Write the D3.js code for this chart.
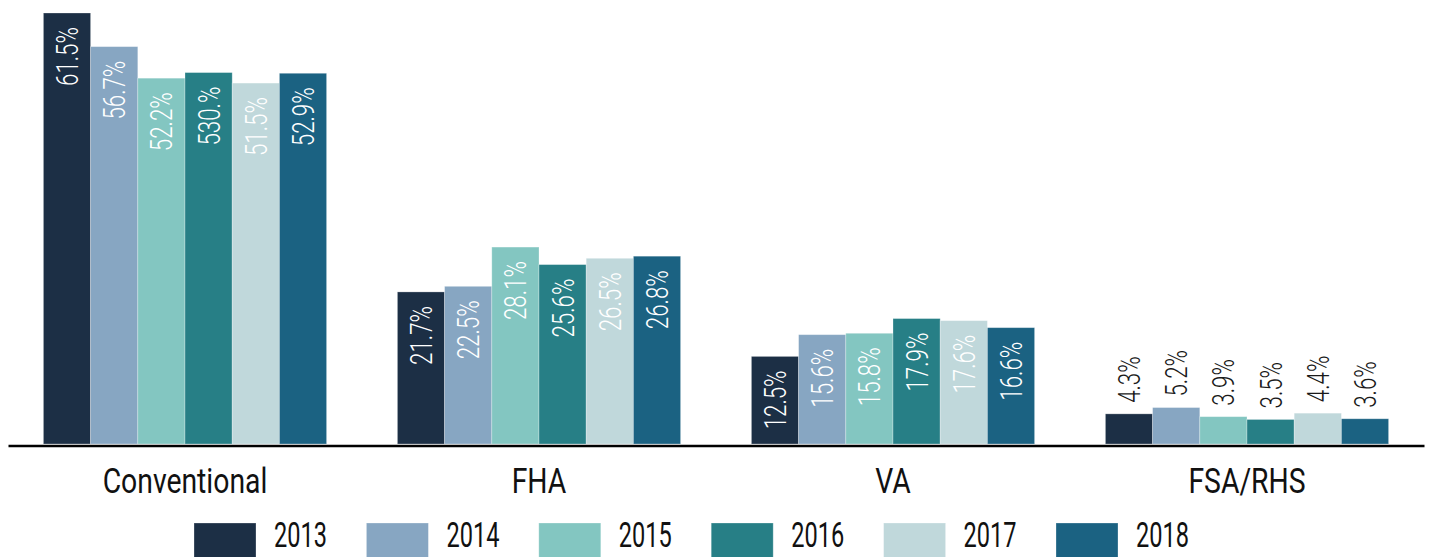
<!DOCTYPE html>
<html lang="en">
<head>
<meta charset="UTF-8">
<title>Loan type share by year</title>
<script src="https://d3js.org/d3.v7.min.js"></script>
<style>
    body { margin: 0; background: #fff; }
    svg { display: block; font-family: Roboto, sans-serif; }
</style>
</head>
<body>
<svg id="chart" width="1432" height="557"></svg>
<script>
// data
const categories = ['Conventional', 'FHA', 'VA', 'FSA/RHS'];
const years = ['2013', '2014', '2015', '2016', '2017', '2018'];
const colors = ['#1c2f45', '#87a6c2', '#83c6c1', '#277f86', '#c0d8db', '#1b6282'];
const values = {
    'Conventional': [61.5, 56.7, 52.2, 53.0, 51.5, 52.9],
    'FHA':          [21.7, 22.5, 28.1, 25.6, 26.5, 26.8],
    'VA':           [12.5, 15.6, 15.8, 17.9, 17.6, 16.6],
    'FSA/RHS':      [4.3, 5.2, 3.9, 3.5, 4.4, 3.6]
};
const labels = {
    'Conventional': ['61.5%', '56.7%', '52.2%', '530.%', '51.5%', '52.9%'],
    'FHA':          ['21.7%', '22.5%', '28.1%', '25.6%', '26.5%', '26.8%'],
    'VA':           ['12.5%', '15.6%', '15.8%', '17.9%', '17.6%', '16.6%'],
    'FSA/RHS':      ['4.3%', '5.2%', '3.9%', '3.5%', '4.4%', '3.6%']
};

const svg = d3.select('#chart');
const baseY = 444;

const x0 = d3.scaleBand().domain(categories).range([8, 1424])
    .paddingInner(0.2).paddingOuter(0.1);
const x1 = d3.scaleBand().domain(years).range([0, x0.bandwidth()]);
const y = d3.scaleLinear().domain([0, 61.5]).range([baseY, 13]);
const color = d3.scaleOrdinal().domain(years).range(colors);

const rows = [];
categories.forEach(c => {
    years.forEach((yr, i) => {
        rows.push({cat: c, year: yr, value: values[c][i], label: labels[c][i]});
    });
});

// bars
svg.append('g').selectAll('rect')
    .data(rows)
    .join('rect')
    .attr('x', d => x0(d.cat) + x1(d.year))
    .attr('y', d => y(d.value))
    .attr('width', x1.bandwidth())
    .attr('height', d => baseY - y(d.value))
    .attr('fill', d => color(d.year))
    .attr('stroke', 'rgba(255,255,255,0.35)')
    .attr('stroke-width', 0.8);

// value labels, rotated; small bars get them above
svg.append('g').selectAll('text')
    .data(rows)
    .join('text')
    .attr('transform', d => {
        const cx = x0(d.cat) + x1(d.year) + x1.bandwidth() / 2 + 11;
        const ty = d.value < 10 ? y(d.value) - 11 : y(d.value) + 14;
        return `translate(${cx},${ty}) rotate(-90) scale(0.72,1)`;
    })
    .attr('text-anchor', d => d.value < 10 ? 'start' : 'end')
    .attr('font-size', 31)
    .attr('font-weight', 300)
    .attr('fill', d => d.value < 10 ? '#1a1a1a' : '#fff')
    .text(d => d.label);

// axis line
const xAxis = d3.axisBottom(x0).tickSize(0).tickPadding(0);
const ax = svg.append('g').attr('transform', `translate(0,${baseY + 1.5})`).call(xAxis);
ax.select('.domain').attr('stroke', '#000').attr('stroke-width', 2.5);
ax.selectAll('text').remove();

// category labels
svg.append('g').selectAll('text')
    .data(categories)
    .join('text')
    .attr('transform', d => `translate(${x0(d) + x0.bandwidth() / 2},493) scale(0.81,1)`)
    .attr('text-anchor', 'middle')
    .attr('font-size', 35)
    .attr('fill', '#111')
    .text(d => d);

// legend
const legend = svg.append('g').selectAll('g')
    .data(years)
    .join('g')
    .attr('transform', (d, i) => `translate(${194 + i * 172.4},0)`);
legend.append('rect')
    .attr('y', 523).attr('width', 62).attr('height', 40)
    .attr('fill', d => color(d))
    .attr('stroke', 'rgba(255,255,255,0.35)').attr('stroke-width', 0.8);
legend.append('text')
    .attr('transform', 'translate(80,547) scale(0.655,1)')
    .attr('font-size', 36)
    .attr('fill', '#111')
    .text(d => d);
</script>
</body>
</html>
